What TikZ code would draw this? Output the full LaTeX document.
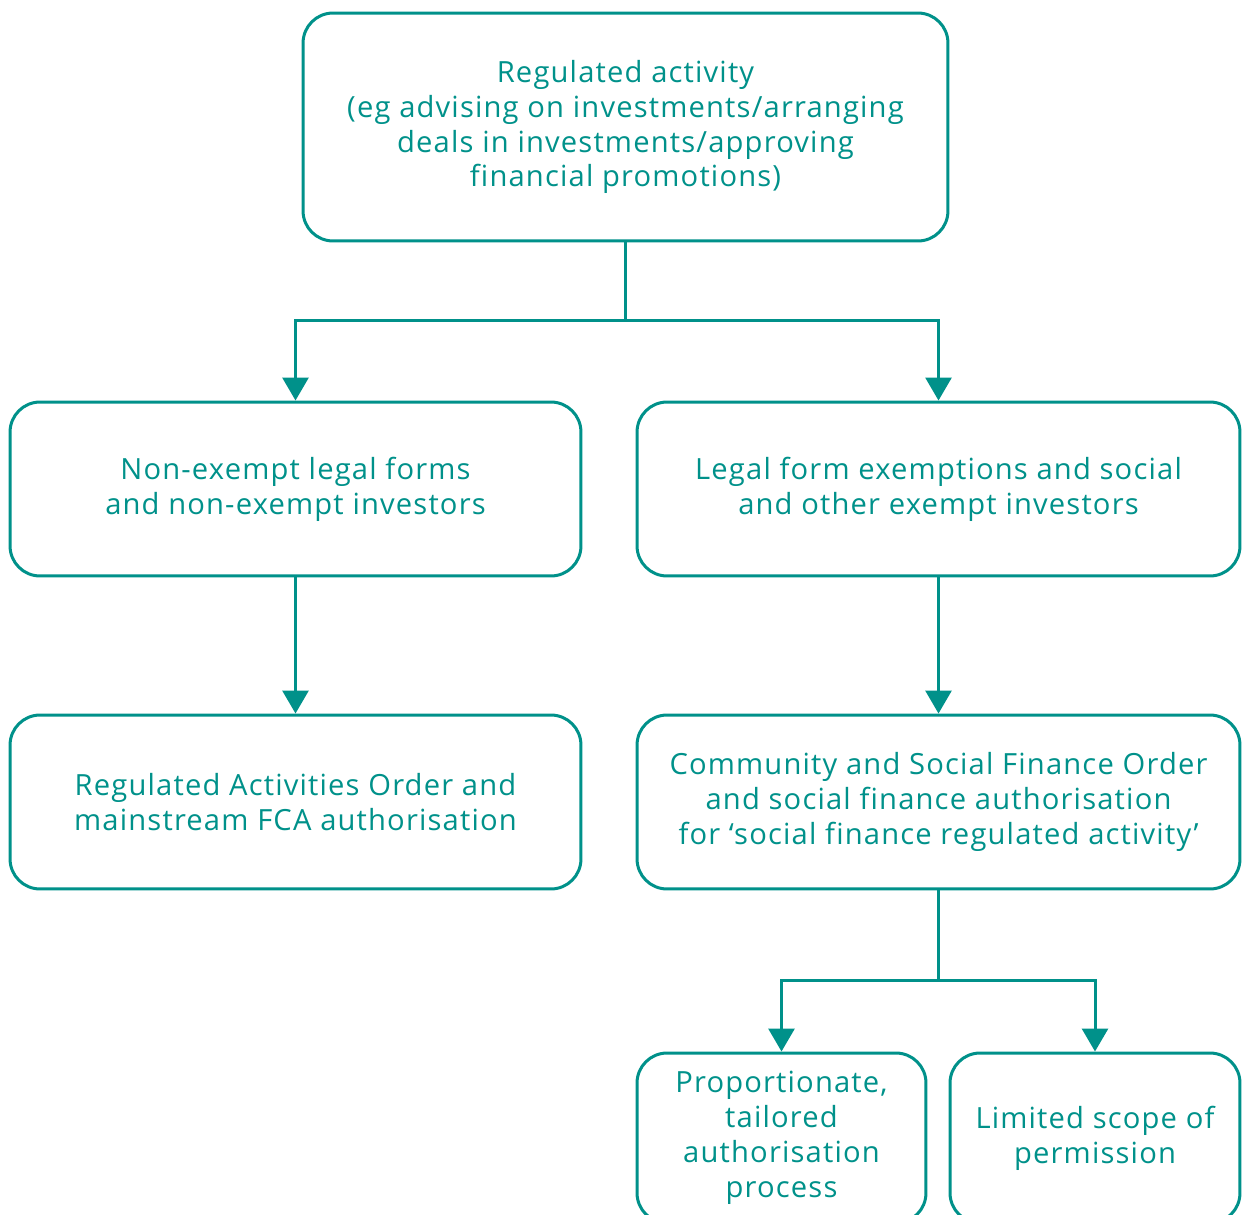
\documentclass[tikz,border=0pt]{standalone}
\usepackage{fontspec}
\setmainfont{Open Sans}[Ligatures=NoCommon, LetterSpace=4]
\usetikzlibrary{arrows.meta}
\definecolor{teal}{RGB}{0,145,138}
\begin{document}
\begin{tikzpicture}[x=0.02cm,y=-0.02cm,
  box/.style={draw=teal, line width=0.06cm, rounded corners=0.6cm, align=center,
    text=teal, inner sep=0pt, font=\fontsize{16.6}{19.85}\selectfont},
  conn/.style={draw=teal, line width=0.06cm},
  arr/.style={conn, -{Triangle[width=0.52cm,length=0.46cm]}}]
\useasboundingbox (0,0) rectangle (1244,1214);
\clip (0,0) rectangle (1244,1214);
\node[box, minimum width=12.9cm, minimum height=4.56cm] (top) at (625.5,127)
  {Regulated activity\\(eg advising on investments/arranging\\deals in investments/approving\\financial promotions)};
\node[box, minimum width=11.42cm, minimum height=3.48cm] (ml) at (295.5,489)
  {Non-exempt legal forms\\and non-exempt investors};
\node[box, minimum width=12.06cm, minimum height=3.48cm] (mr) at (938.5,489)
  {Legal form exemptions and social\\and other exempt investors};
\node[box, minimum width=11.42cm, minimum height=3.48cm] (bl) at (295.5,802)
  {Regulated Activities Order and\\mainstream FCA authorisation};
\node[box, minimum width=12.06cm, minimum height=3.48cm] (br) at (938.5,802)
  {Community and Social Finance Order\\and social finance authorisation\\for ‘social finance regulated activity’};
\node[box, minimum width=5.78cm, minimum height=3.4cm] (sl) at (781.5,1138)
  {Proportionate,\\tailored\\authorisation\\process};
\node[box, minimum width=5.8cm, minimum height=3.4cm] (sr) at (1095,1138)
  {Limited scope of\\permission};
\coordinate (j1) at (625.5,320);
\coordinate (j2) at (938.5,980);
\draw[conn] (top.south) -- (j1);
\draw[arr] (j1) -| (ml.north);
\draw[arr] (j1) -| (mr.north);
\draw[arr] (ml.south) -- (bl.north);
\draw[arr] (mr.south) -- (br.north);
\draw[conn] (br.south) -- (j2);
\draw[arr] (j2) -| (sl.north);
\draw[arr] (j2) -| (sr.north);
\end{tikzpicture}
\end{document}
